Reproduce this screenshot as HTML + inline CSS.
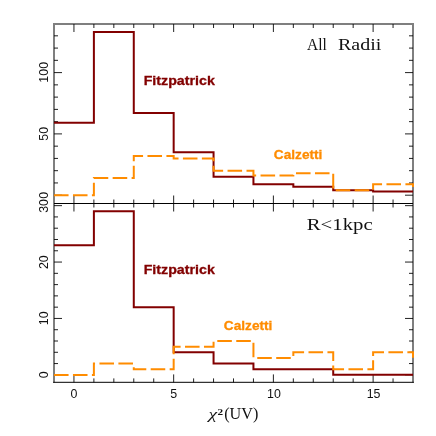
<!DOCTYPE html>
<html><head><meta charset="utf-8"><title>chi2 histograms</title>
<style>html,body{margin:0;padding:0;background:#fff;}svg{display:block;}body{font-family:"Liberation Sans",sans-serif;}</style></head>
<body>
<svg style="will-change:transform" width="436" height="436" viewBox="0 0 436 436">
<rect width="436" height="436" fill="#ffffff"/>
<path d="M73.94 24.00 V32.00 M73.94 195.50 V211.50 M73.94 382.40 V374.40 M93.89 24.00 V28.00 M93.89 199.50 V207.50 M93.89 382.40 V378.40 M113.83 24.00 V28.00 M113.83 199.50 V207.50 M113.83 382.40 V378.40 M133.78 24.00 V28.00 M133.78 199.50 V207.50 M133.78 382.40 V378.40 M153.72 24.00 V28.00 M153.72 199.50 V207.50 M153.72 382.40 V378.40 M173.67 24.00 V32.00 M173.67 195.50 V211.50 M173.67 382.40 V374.40 M193.61 24.00 V28.00 M193.61 199.50 V207.50 M193.61 382.40 V378.40 M213.56 24.00 V28.00 M213.56 199.50 V207.50 M213.56 382.40 V378.40 M233.50 24.00 V28.00 M233.50 199.50 V207.50 M233.50 382.40 V378.40 M253.44 24.00 V28.00 M253.44 199.50 V207.50 M253.44 382.40 V378.40 M273.39 24.00 V32.00 M273.39 195.50 V211.50 M273.39 382.40 V374.40 M293.33 24.00 V28.00 M293.33 199.50 V207.50 M293.33 382.40 V378.40 M313.28 24.00 V28.00 M313.28 199.50 V207.50 M313.28 382.40 V378.40 M333.22 24.00 V28.00 M333.22 199.50 V207.50 M333.22 382.40 V378.40 M353.17 24.00 V28.00 M353.17 199.50 V207.50 M353.17 382.40 V378.40 M373.11 24.00 V32.00 M373.11 195.50 V211.50 M373.11 382.40 V374.40 M393.06 24.00 V28.00 M393.06 199.50 V207.50 M393.06 382.40 V378.40 M54.00 195.20 H62.00 M413.00 195.20 H405.00 M54.00 182.94 H58.00 M413.00 182.94 H409.00 M54.00 170.68 H58.00 M413.00 170.68 H409.00 M54.00 158.42 H58.00 M413.00 158.42 H409.00 M54.00 146.16 H58.00 M413.00 146.16 H409.00 M54.00 133.90 H62.00 M413.00 133.90 H405.00 M54.00 121.64 H58.00 M413.00 121.64 H409.00 M54.00 109.38 H58.00 M413.00 109.38 H409.00 M54.00 97.12 H58.00 M413.00 97.12 H409.00 M54.00 84.86 H58.00 M413.00 84.86 H409.00 M54.00 72.60 H62.00 M413.00 72.60 H405.00 M54.00 60.34 H58.00 M413.00 60.34 H409.00 M54.00 48.08 H58.00 M413.00 48.08 H409.00 M54.00 35.82 H58.00 M413.00 35.82 H409.00 M54.00 374.85 H62.00 M413.00 374.85 H405.00 M54.00 363.57 H58.00 M413.00 363.57 H409.00 M54.00 352.29 H58.00 M413.00 352.29 H409.00 M54.00 341.01 H58.00 M413.00 341.01 H409.00 M54.00 329.73 H58.00 M413.00 329.73 H409.00 M54.00 318.45 H62.00 M413.00 318.45 H405.00 M54.00 307.17 H58.00 M413.00 307.17 H409.00 M54.00 295.89 H58.00 M413.00 295.89 H409.00 M54.00 284.61 H58.00 M413.00 284.61 H409.00 M54.00 273.33 H58.00 M413.00 273.33 H409.00 M54.00 262.05 H62.00 M413.00 262.05 H405.00 M54.00 250.77 H58.00 M413.00 250.77 H409.00 M54.00 239.49 H58.00 M413.00 239.49 H409.00 M54.00 228.21 H58.00 M413.00 228.21 H409.00 M54.00 216.93 H58.00 M413.00 216.93 H409.00 M54.00 205.65 H62.00 M413.00 205.65 H405.00" stroke="#222" stroke-width="1" fill="none"/>
<path d="M54.0 203.5 H413.0" stroke="#000" stroke-width="1.1" fill="none"/>
<path d="M54.0 23.0 V382.4 M413.0 23.0 V382.4 M54.0 24.0 H413.0" stroke="#000" stroke-width="2" fill="none" stroke-linecap="butt" opacity="0.5"/>
<path d="M53.1 382.4 H413.9" stroke="#000" stroke-width="1.3" fill="none" opacity="0.8"/>
<g fill="none" stroke-linejoin="miter" stroke-linecap="butt">
<path d="M54.00 122.86 L93.89 122.86 L93.89 32.06 L133.78 32.06 L133.78 113.04 L173.67 113.04 L173.67 152.31 L213.56 152.31 L213.56 176.84 L253.44 176.84 L253.44 184.21 L293.33 184.21 L293.33 186.66 L333.22 186.66 L333.22 190.34 L373.11 190.34 L373.11 191.57 L413.00 191.57" stroke="#820000" stroke-width="2"/>
<path d="M54.00 245.13 L93.89 245.13 L93.89 211.29 L133.78 211.29 L133.78 307.17 L173.67 307.17 L173.67 352.29 L213.56 352.29 L213.56 363.57 L253.44 363.57 L253.44 369.21 L293.33 369.21 L293.33 369.21 L333.22 369.21 L333.22 374.85 L373.11 374.85 L373.11 374.85 L413.00 374.85" stroke="#820000" stroke-width="2"/>
<path d="M54.00 195.25 L93.89 195.25 L93.89 178.07 L133.78 178.07 L133.78 155.99 L173.67 155.99 L173.67 158.44 L213.56 158.44 L213.56 170.71 L253.44 170.71 L253.44 175.62 L293.33 175.62 L293.33 173.16 L333.22 173.16 L333.22 190.34 L373.11 190.34 L373.11 184.21 L413.00 184.21 L413.00 187.00" stroke="#ff8c00" stroke-width="2" stroke-dasharray="14.56 4.4"/>
<path d="M54.00 375.00 L93.89 375.00 L93.89 363.57 L133.78 363.57 L133.78 369.21 L173.67 369.21 L173.67 346.65 L213.56 346.65 L213.56 341.01 L253.44 341.01 L253.44 357.93 L293.33 357.93 L293.33 352.29 L333.22 352.29 L333.22 369.21 L373.11 369.21 L373.11 352.29 L413.00 352.29 L413.00 357.70" stroke="#ff8c00" stroke-width="2" stroke-dasharray="14.56 4.4"/>
</g>
<text x="73.94" y="397.9" font-family="Liberation Sans, sans-serif" font-size="12.4" text-anchor="middle" fill="#111">0</text>
<text x="173.67" y="397.9" font-family="Liberation Sans, sans-serif" font-size="12.4" text-anchor="middle" fill="#111">5</text>
<text x="273.89" y="397.9" font-family="Liberation Sans, sans-serif" font-size="12.4" text-anchor="middle" fill="#111">10</text>
<text x="373.61" y="397.9" font-family="Liberation Sans, sans-serif" font-size="12.4" text-anchor="middle" fill="#111">15</text>
<text transform="translate(47.6 72.30) rotate(-90)" font-family="Liberation Sans, sans-serif" font-size="12.4" text-anchor="middle" fill="#111">100</text>
<text transform="translate(47.6 133.80) rotate(-90)" font-family="Liberation Sans, sans-serif" font-size="12.4" text-anchor="middle" fill="#111">50</text>
<text transform="translate(47.6 195.30) rotate(-90)" font-family="Liberation Sans, sans-serif" font-size="12.4" text-anchor="middle" fill="#111">0</text>
<text transform="translate(47.6 205.90) rotate(-90)" font-family="Liberation Sans, sans-serif" font-size="12.4" text-anchor="middle" fill="#111">30</text>
<text transform="translate(47.6 262.20) rotate(-90)" font-family="Liberation Sans, sans-serif" font-size="12.4" text-anchor="middle" fill="#111">20</text>
<text transform="translate(47.6 318.30) rotate(-90)" font-family="Liberation Sans, sans-serif" font-size="12.4" text-anchor="middle" fill="#111">10</text>
<text transform="translate(47.6 374.70) rotate(-90)" font-family="Liberation Sans, sans-serif" font-size="12.4" text-anchor="middle" fill="#111">0</text>
<text x="307.0" y="50.2" font-family="Liberation Serif, serif" font-size="17" textLength="19.8" lengthAdjust="spacingAndGlyphs" fill="#111">All</text>
<text x="338.0" y="50.2" font-family="Liberation Serif, serif" font-size="17" textLength="43.4" lengthAdjust="spacingAndGlyphs" fill="#111">Radii</text>
<text x="306.8" y="229.8" font-family="Liberation Serif, serif" font-size="16.6" textLength="65.8" lengthAdjust="spacingAndGlyphs" fill="#111">R&lt;1kpc</text>
<text x="143.7" y="85.2" font-family="Liberation Sans, sans-serif" font-weight="bold" font-size="12.7" textLength="71.1" lengthAdjust="spacingAndGlyphs" fill="#820000" stroke="#820000" stroke-width="0.3">Fitzpatrick</text>
<text x="143.7" y="273.8" font-family="Liberation Sans, sans-serif" font-weight="bold" font-size="12.7" textLength="71.1" lengthAdjust="spacingAndGlyphs" fill="#820000" stroke="#820000" stroke-width="0.3">Fitzpatrick</text>
<text x="273.8" y="159.1" font-family="Liberation Sans, sans-serif" font-weight="bold" font-size="12.7" textLength="48.6" lengthAdjust="spacingAndGlyphs" fill="#ff8c00" stroke="#ff8c00" stroke-width="0.3">Calzetti</text>
<text x="223.8" y="330.2" font-family="Liberation Sans, sans-serif" font-weight="bold" font-size="12.7" textLength="48.6" lengthAdjust="spacingAndGlyphs" fill="#ff8c00" stroke="#ff8c00" stroke-width="0.3">Calzetti</text>
<text x="208.4" y="419.2" font-family="Liberation Serif, serif" font-size="15.2" font-style="italic" textLength="8.6" lengthAdjust="spacingAndGlyphs" fill="#111">&#967;</text>
<text x="217.4" y="414.5" font-family="Liberation Serif, serif" font-size="7.8" font-weight="bold" textLength="5.6" lengthAdjust="spacingAndGlyphs" fill="#111">2</text>
<text x="224.2" y="419.1" font-family="Liberation Serif, serif" font-size="16.6" textLength="34.1" lengthAdjust="spacingAndGlyphs" fill="#111">(UV)</text>
</svg>
</body></html>
